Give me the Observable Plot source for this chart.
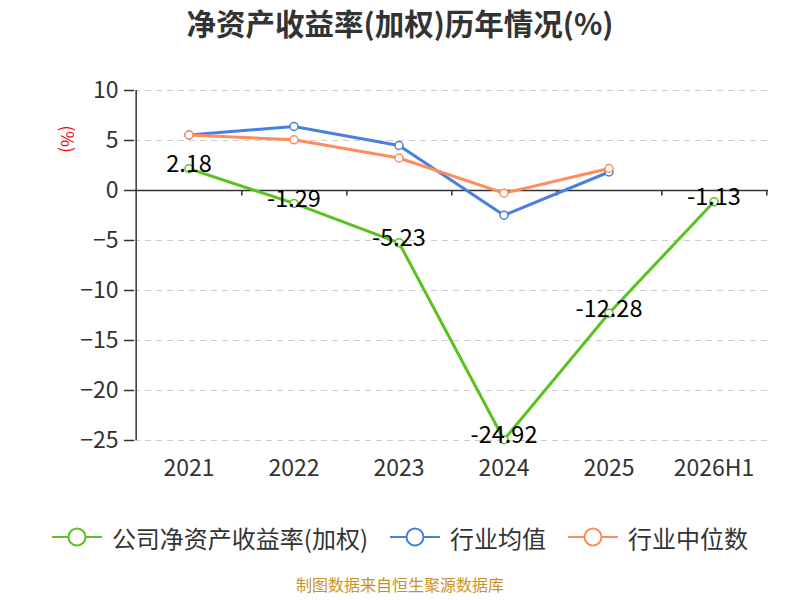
<!DOCTYPE html>
<html>
<head>
<meta charset="utf-8">
<script src="https://cdn.jsdelivr.net/npm/d3@7"></script>
<script src="https://cdn.jsdelivr.net/npm/@observablehq/plot@0.6"></script>
<style>
  html, body { margin: 0; padding: 0; background: #fff; width: 800px; height: 600px; overflow: hidden; }
  body { font-family: "Noto Sans CJK SC", "Noto Sans", sans-serif; color: #333; }
  #title { height: 45px; line-height: 45px; text-align: center; font-size: 29.5px; font-weight: bold; color: #333; }
  #chart svg { display: block; }
  #legend { display: flex; justify-content: center; align-items: center; gap: 22px; height: 40px; margin-top: 32px; font-size: 24px; color: #333; }
  #legend .item { display: flex; align-items: center; gap: 10px; }
  #caption { text-align: center; font-size: 16px; color: #c8922a; margin-top: 15px; }
</style>
</head>
<body>
<div id="title">净资产收益率(加权)历年情况(%)</div>
<div id="chart"></div>
<div id="legend"></div>
<div id="caption">制图数据来自恒生聚源数据库</div>
<script>
const years = ["2021", "2022", "2023", "2024", "2025", "2026H1"];
const company = [2.18, -1.29, -5.23, -24.92, -12.28, -1.13];
const industryAvg = [5.55, 6.4, 4.5, -2.47, 1.85, null];
const industryMedian = [5.55, 5.07, 3.25, -0.27, 2.2, null];
const yTicks = [10, 5, 0, -5, -10, -15, -20, -25];
const seriesNames = ["公司净资产收益率(加权)", "行业均值", "行业中位数"];
const seriesColors = ["#5ac21e", "#4a7fe0", "#ff8c5a"];

const toRows = (vals) => years.map((y, i) => ({ year: y, value: vals[i] })).filter(d => d.value != null);
const rowsCompany = toRows(company);
const rowsAvg = toRows(industryAvg);
const rowsMed = toRows(industryMedian);

const width = 800, height = 440;
const mL = 134, mR = 32, mT = 45, mB = 45;
const bw = (width - mL - mR) / years.length;

const lineMarks = (rows, color) => [
  Plot.line(rows, { x: "year", y: "value", stroke: color, strokeWidth: 3 }),
  Plot.dot(rows, { x: "year", y: "value", r: 4, fill: "#fff", stroke: color, strokeWidth: 1.5 })
];

const chart = Plot.plot({
  width, height,
  marginLeft: mL, marginRight: mR, marginTop: mT, marginBottom: mB,
  style: { fontFamily: "'Noto Sans CJK SC', 'Noto Sans', sans-serif", color: "#333", background: "#fff" },
  x: { type: "band", domain: years, padding: 0 },
  y: { domain: [-25, 10] },
  marks: [
    Plot.ruleY(yTicks.filter(t => t !== 0), { stroke: "#ccc", strokeWidth: 1.2, strokeDasharray: "6,5" }),
    Plot.ruleY([0], { stroke: "#333", strokeWidth: 1.5 }),
    Plot.ruleX([years[0]], { dx: -bw / 2, y1: -25, y2: 10, stroke: "#333", strokeWidth: 1.5 }),
    Plot.ruleX(years, { x: d => d, dx: bw / 2, y1: 0, y2: -0.55, stroke: "#333", strokeWidth: 1.5 }),
    Plot.axisY(yTicks, { tickSize: 10, tickPadding: 6, fontSize: 23, fill: "#333", stroke: "#333", strokeWidth: 1.5, label: null }),
    Plot.axisX({ tickSize: 0, tickPadding: 19, fontSize: 23, fill: "#333", label: null }),
    Plot.text(["(%)"], { frameAnchor: "top-left", dx: -61, dy: 35, rotate: 90, fill: "#e00", fontSize: 17 }),
    ...lineMarks(rowsCompany, seriesColors[0]),
    ...lineMarks(rowsAvg, seriesColors[1]),
    ...lineMarks(rowsMed, seriesColors[2]),
    Plot.text(rowsCompany, { x: "year", y: "value", text: d => String(d.value), fill: "#000", fontSize: 23.5, dy: -4 })
  ]
});
document.getElementById("chart").appendChild(chart);

const legend = document.getElementById("legend");
seriesNames.forEach((name, i) => {
  const item = document.createElement("div");
  item.className = "item";
  item.innerHTML = `<svg width="50" height="22"><line x1="0" y1="11" x2="50" y2="11" stroke="${seriesColors[i]}" stroke-width="2"/><circle cx="25" cy="11" r="8.5" fill="#fff" stroke="${seriesColors[i]}" stroke-width="2"/></svg><span>${name}</span>`;
  legend.appendChild(item);
});
</script>
</body>
</html>
